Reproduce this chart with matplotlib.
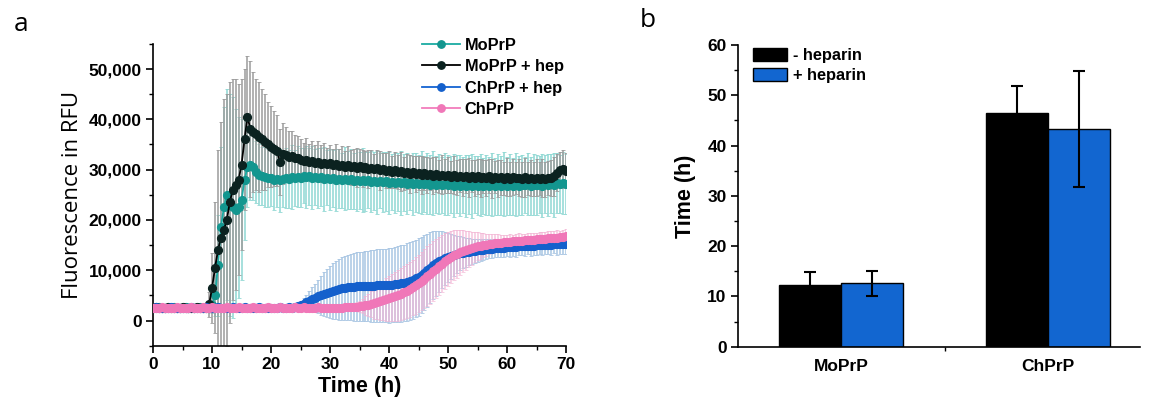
import numpy as np
import matplotlib
matplotlib.use("Agg")
import matplotlib.pyplot as plt
from matplotlib.ticker import MultipleLocator, FuncFormatter

# ---------- panel a: ThT kinetics (values in thousands of RFU) ----------
time_h = np.arange(0, 70.5, 0.5)

mo_hep = [
    2.5, 2.6, 2.5, 2.4, 2.5, 2.6, 2.5, 2.5, 2.4, 2.5,
    2.6, 2.5, 2.4, 2.5, 2.5, 2.6, 2.5, 2.4, 2.5, 3.2,
    6.5, 10.5, 14.0, 16.5, 18.0, 20.0, 23.5, 26.0, 27.0, 28.0,
    31.0, 36.0, 40.5, 38.0, 37.5, 37.0, 36.5, 36.0, 35.5, 35.0,
    34.6, 34.2, 33.8, 31.5, 33.2, 33.0, 32.6, 32.8, 32.3, 32.4,
    32.0, 31.7, 32.0, 31.6, 31.8, 31.4, 31.6, 31.2, 31.4, 31.1,
    31.3, 30.9, 31.1, 30.8, 31.0, 30.6, 30.9, 30.5, 30.8, 30.4,
    30.7, 30.3, 30.6, 30.2, 30.4, 30.1, 30.3, 29.9, 30.1, 29.8,
    30.0, 29.6, 29.9, 29.5, 29.7, 29.3, 29.6, 29.2, 29.5, 29.1,
    29.4, 29.0, 29.3, 28.9, 29.2, 28.8, 29.1, 28.7, 29.0, 28.7,
    28.9, 28.6, 28.9, 28.5, 28.8, 28.5, 28.8, 28.4, 28.7, 28.4,
    28.7, 28.3, 28.6, 28.3, 28.7, 28.2, 28.6, 28.3, 28.5, 28.2,
    28.6, 28.2, 28.5, 28.3, 28.4, 28.1, 28.5, 28.2, 28.4, 28.1,
    28.4, 28.2, 28.3, 28.1, 28.4, 28.3, 28.7, 29.4, 29.9, 30.1,
    29.8]
mo_hep_err = [
    0.5, 0.5, 0.5, 0.5, 0.5, 0.5, 0.5, 0.5, 0.5, 0.5,
    0.5, 0.5, 0.5, 0.5, 0.5, 0.6, 0.6, 0.7, 0.8, 2.5,
    7.0, 13.0, 20.0, 23.0, 26.0, 25.0, 24.0, 22.0, 21.0, 19.0,
    17.0, 14.0, 12.0, 13.5, 12.0, 11.0, 11.0, 10.0, 9.5, 8.5,
    8.0, 7.5, 7.0, 6.5, 6.0, 5.5, 5.0, 4.8, 4.5, 4.2,
    4.0, 3.6, 4.2, 3.5, 3.9, 3.4, 4.0, 3.6, 3.8, 3.3,
    3.6, 3.2, 3.9, 3.4, 3.7, 3.1, 3.8, 3.5, 3.3, 3.9,
    3.4, 3.7, 3.2, 3.8, 3.5, 3.1, 3.6, 3.9, 3.3, 3.5,
    3.7, 3.2, 3.6, 3.4, 3.9, 3.3, 3.5, 3.8, 3.2, 3.6,
    3.4, 3.8, 3.3, 3.6, 3.2, 3.7, 3.5, 3.3, 3.9, 3.4,
    3.6, 3.2, 3.8, 3.5, 3.3, 3.7, 3.4, 3.9, 3.2, 3.6,
    3.5, 3.8, 3.3, 3.6, 3.4, 3.9, 3.2, 3.7, 3.5, 3.3,
    3.8, 3.4, 3.6, 3.2, 3.7, 3.5, 3.9, 3.3, 3.6, 3.4,
    3.7, 3.3, 3.8, 3.5, 3.4, 3.6, 3.9, 3.7, 3.6, 3.8,
    3.5]

mo = [
    2.4, 2.5, 2.6, 2.5, 2.4, 2.5, 2.5, 2.6, 2.5, 2.4,
    2.5, 2.6, 2.5, 2.4, 2.5, 2.5, 2.6, 2.5, 2.4, 2.5,
    3.0, 5.0, 11.0, 18.5, 22.5, 25.0, 23.0, 22.5, 22.0, 22.5,
    24.0, 28.0, 30.5, 31.0, 30.5, 29.5, 29.0, 28.8, 28.5, 28.4,
    28.3, 28.0, 28.2, 27.9, 28.1, 28.4, 28.2, 28.5, 28.3, 28.6,
    28.4, 28.8, 28.5, 28.7, 28.4, 28.6, 28.3, 28.5, 28.2, 28.4,
    28.1, 28.3, 28.0, 28.2, 27.9, 28.2, 27.9, 28.1, 27.8, 28.0,
    27.8, 28.0, 27.7, 27.9, 27.6, 27.8, 27.5, 27.8, 27.5, 27.7,
    27.4, 27.6, 27.3, 27.6, 27.3, 27.5, 27.2, 27.5, 27.2, 27.4,
    27.1, 27.4, 27.1, 27.3, 27.0, 27.3, 27.0, 27.2, 26.9, 27.2,
    26.9, 27.1, 26.8, 27.1, 26.8, 27.0, 26.7, 27.0, 26.8, 27.1,
    26.8, 27.0, 26.7, 27.0, 26.8, 27.1, 26.7, 27.0, 26.8, 27.1,
    26.8, 27.0, 26.7, 27.1, 26.8, 27.0, 26.9, 27.1, 26.8, 27.0,
    26.9, 27.1, 26.8, 27.2, 26.9, 27.2, 27.0, 27.3, 27.1, 27.4,
    27.2]
mo_err = [
    0.6, 0.6, 0.6, 0.6, 0.6, 0.6, 0.6, 0.6, 0.6, 0.6,
    0.6, 0.6, 0.6, 0.6, 0.6, 0.6, 0.6, 0.6, 0.6, 0.8,
    1.5, 4.0, 10.0, 16.0, 20.0, 21.0, 22.0, 22.0, 20.0, 18.0,
    16.0, 12.0, 8.0, 7.0, 6.5, 6.2, 6.0, 5.8, 6.0, 5.8,
    5.6, 6.1, 5.7, 6.3, 5.5, 6.0, 5.8, 6.4, 5.6, 6.1,
    5.9, 5.5, 6.2, 5.7, 6.3, 5.6, 6.0, 5.8, 6.4, 5.5,
    6.1, 5.7, 6.2, 5.9, 5.5, 6.3, 5.8, 6.0, 5.6, 6.2,
    5.7, 6.4, 5.9, 5.6, 6.1, 5.8, 6.3, 5.5, 6.0, 5.9,
    6.2, 5.6, 6.0, 5.8, 6.4, 5.7, 6.1, 5.5, 6.2, 5.9,
    5.8, 6.3, 5.6, 6.1, 5.9, 6.4, 5.7, 6.0, 5.6, 6.2,
    6.0, 5.7, 6.3, 5.8, 6.1, 5.6, 6.2, 5.9, 6.4, 5.7,
    5.9, 6.2, 5.6, 6.0, 5.8, 6.3, 5.7, 6.1, 5.9, 6.4,
    5.8, 6.1, 5.7, 6.3, 5.9, 6.0, 5.6, 6.2, 5.8, 6.1,
    6.0, 5.7, 6.3, 5.8, 6.2, 5.9, 6.4, 6.0, 5.8, 6.2,
    6.0]

ch_hep = [
    2.5, 2.6, 2.5, 2.4, 2.5, 2.5, 2.6, 2.5, 2.4, 2.5,
    2.5, 2.4, 2.5, 2.6, 2.5, 2.4, 2.5, 2.5, 2.6, 2.5,
    2.4, 2.5, 2.6, 2.5, 2.4, 2.5, 2.5, 2.6, 2.5, 2.4,
    2.5, 2.6, 2.5, 2.4, 2.5, 2.5, 2.6, 2.5, 2.4, 2.5,
    2.5, 2.4, 2.5, 2.6, 2.5, 2.5, 2.6, 2.5, 2.6, 2.8,
    3.0, 3.3, 3.6, 3.9, 4.2, 4.5, 4.8, 5.0, 5.3, 5.5,
    5.7, 5.9, 6.1, 6.2, 6.4, 6.5, 6.6, 6.7, 6.7, 6.8,
    6.8, 6.8, 6.9, 6.9, 6.9, 6.9, 7.0, 7.0, 7.0, 7.0,
    7.0, 7.1, 7.2, 7.3, 7.4, 7.5, 7.7, 7.9, 8.1, 8.4,
    8.7, 9.1, 9.5, 10.0, 10.5, 11.0, 11.4, 11.8, 12.1, 12.4,
    12.6, 12.8, 13.0, 13.2, 13.4, 13.5, 13.6, 13.7, 13.8, 13.9,
    14.0, 14.1, 14.1, 14.2, 14.3, 14.3, 14.4, 14.4, 14.5, 14.5,
    14.6, 14.6, 14.7, 14.7, 14.8, 14.8, 14.8, 14.9, 14.9, 14.9,
    15.0, 15.0, 15.0, 15.1, 15.1, 15.1, 15.2, 15.2, 15.2, 15.3,
    15.3]
ch_hep_err = [
    0.6, 0.6, 0.6, 0.6, 0.6, 0.6, 0.6, 0.6, 0.6, 0.6,
    0.6, 0.6, 0.6, 0.6, 0.6, 0.6, 0.6, 0.6, 0.6, 0.6,
    0.6, 0.6, 0.6, 0.6, 0.6, 0.6, 0.6, 0.6, 0.6, 0.6,
    0.6, 0.6, 0.6, 0.6, 0.6, 0.6, 0.6, 0.6, 0.6, 0.6,
    0.6, 0.6, 0.6, 0.6, 0.6, 0.6, 0.6, 0.7, 0.7, 0.8,
    0.9, 1.2, 1.5, 1.9, 2.4, 2.8, 3.3, 3.8, 4.3, 4.8,
    5.1, 5.5, 5.8, 6.0, 6.2, 6.3, 6.5, 6.6, 6.7, 6.8,
    6.9, 6.9, 7.0, 7.0, 7.1, 7.1, 7.2, 7.2, 7.3, 7.3,
    7.4, 7.4, 7.5, 7.5, 7.6, 7.6, 7.7, 7.7, 7.7, 7.7,
    7.7, 7.6, 7.5, 7.3, 7.1, 6.8, 6.5, 6.1, 5.7, 5.3,
    4.9, 4.5, 4.1, 3.7, 3.4, 3.1, 2.9, 2.7, 2.5, 2.4,
    2.3, 2.2, 2.1, 2.0, 1.9, 1.9, 1.8, 1.8, 1.8, 1.8,
    1.7, 1.9, 1.8, 2.0, 1.7, 1.8, 1.9, 1.7, 2.0, 1.8,
    1.9, 1.7, 2.0, 1.8, 1.9, 2.0, 1.8, 2.1, 1.9, 2.1,
    2.0]

ch = [
    2.5, 2.4, 2.5, 2.6, 2.5, 2.5, 2.4, 2.5, 2.6, 2.5,
    2.4, 2.5, 2.5, 2.6, 2.5, 2.4, 2.5, 2.6, 2.5, 2.5,
    2.6, 2.5, 2.4, 2.5, 2.5, 2.6, 2.5, 2.4, 2.5, 2.6,
    2.5, 2.5, 2.4, 2.5, 2.6, 2.5, 2.5, 2.4, 2.5, 2.6,
    2.5, 2.4, 2.5, 2.6, 2.5, 2.5, 2.4, 2.5, 2.6, 2.5,
    2.5, 2.6, 2.5, 2.4, 2.5, 2.5, 2.6, 2.5, 2.4, 2.5,
    2.5, 2.5, 2.5, 2.5, 2.5, 2.6, 2.6, 2.6, 2.7, 2.7,
    2.8, 2.9, 3.0, 3.1, 3.3, 3.4, 3.6, 3.8, 4.0, 4.2,
    4.4, 4.6, 4.8, 5.0, 5.3, 5.6, 5.9, 6.2, 6.6, 7.0,
    7.4, 7.8, 8.3, 8.8, 9.3, 9.8, 10.3, 10.8, 11.3, 11.8,
    12.2, 12.6, 13.0, 13.3, 13.6, 13.8, 14.0, 14.2, 14.4, 14.6,
    14.8, 14.9, 15.0, 15.1, 15.2, 15.3, 15.4, 15.5, 15.5, 15.6,
    15.7, 15.7, 15.8, 15.8, 15.9, 15.9, 16.0, 16.0, 16.1, 16.1,
    16.2, 16.2, 16.3, 16.3, 16.4, 16.4, 16.5, 16.5, 16.6, 16.7,
    16.8]
ch_err = [
    0.5, 0.5, 0.5, 0.5, 0.5, 0.5, 0.5, 0.5, 0.5, 0.5,
    0.5, 0.5, 0.5, 0.5, 0.5, 0.5, 0.5, 0.5, 0.5, 0.5,
    0.5, 0.5, 0.5, 0.5, 0.5, 0.5, 0.5, 0.5, 0.5, 0.5,
    0.5, 0.5, 0.5, 0.5, 0.5, 0.5, 0.5, 0.5, 0.5, 0.5,
    0.5, 0.5, 0.5, 0.5, 0.5, 0.5, 0.5, 0.5, 0.5, 0.5,
    0.5, 0.5, 0.5, 0.5, 0.5, 0.5, 0.5, 0.5, 0.5, 0.5,
    0.5, 0.5, 0.5, 0.5, 0.5, 0.6, 0.6, 0.7, 0.8, 0.9,
    1.1, 1.4, 1.8, 2.2, 2.6, 3.0, 3.3, 3.6, 3.9, 4.2,
    4.4, 4.6, 4.8, 5.0, 5.1, 5.2, 5.3, 5.4, 5.5, 5.6,
    5.7, 5.8, 5.9, 6.0, 6.0, 6.0, 5.9, 5.8, 5.7, 5.6,
    5.4, 5.2, 5.0, 4.8, 4.5, 4.2, 3.9, 3.6, 3.3, 3.0,
    2.8, 2.6, 2.4, 2.2, 2.0, 1.9, 1.8, 1.7, 1.6, 1.5,
    1.4, 1.5, 1.3, 1.4, 1.5, 1.4, 1.3, 1.5, 1.4, 1.4,
    1.3, 1.5, 1.4, 1.3, 1.5, 1.4, 1.4, 1.5, 1.3, 1.4,
    1.4]

# ---------- panel b: lag times ----------
proteins = ["MoPrP", "ChPrP"]
lag_minus_hep = [12.3, 46.4]
lag_minus_hep_err = [2.5, 5.5]
lag_plus_hep = [12.6, 43.3]
lag_plus_hep_err = [2.5, 11.5]

BOLD = "Liberation Sans"
plt.rcParams["font.family"] = [BOLD, "DejaVu Sans"]
plt.rcParams["axes.linewidth"] = 1.2

fig = plt.figure(figsize=(11.56, 4.11), dpi=100)
ax = fig.add_axes([0.1324, 0.1589, 0.3573, 0.7343])
ax2 = fig.add_axes([0.6382, 0.1564, 0.348, 0.734])

series = [
    ("MoPrP", mo, mo_err, "#1aaba3", "#13968f", "#8fd8d3"),
    ("MoPrP + hep", mo_hep, mo_hep_err, "#000000", "#0b2220", "#9c9c9c"),
    ("ChPrP + hep", ch_hep, ch_hep_err, "#1463d2", "#1460cc", "#a9c6e3"),
    ("ChPrP", ch, ch_err, "#f27dbc", "#f077b8", "#f3b3d3"),
]
t = time_h
# error bars underneath: black first, then the rest
err_order = [1, 0, 2, 3]
for k in err_order:
    name, y, e, c, ec, errc = series[k]
    ax.errorbar(t, np.array(y) * 1000, yerr=np.array(e) * 1000, fmt="none",
                ecolor=errc, elinewidth=1.3, capsize=1.3, capthick=0.7,
                alpha=0.85 if k < 3 else 0.65, zorder=1 + k * 0.1)
handles = []
for k, (name, y, e, c, ec, errc) in enumerate(series):
    h, = ax.plot(t, np.array(y) * 1000, "-o", color=c, mfc=ec, mec=ec,
                 ms=5.6, lw=1.3, label=name, zorder=3 + k * 0.1)
    handles.append(h)

ax.set_xlim(0, 70)
ax.set_ylim(-5000, 55000)
ax.xaxis.set_major_locator(MultipleLocator(10))
ax.xaxis.set_minor_locator(MultipleLocator(5))
ax.yaxis.set_major_locator(MultipleLocator(10000))
ax.yaxis.set_minor_locator(MultipleLocator(5000))
ax.yaxis.set_major_formatter(FuncFormatter(lambda v, p: f"{int(v):,}"))
for a in (ax, ax2):
    a.spines["top"].set_visible(False)
    a.spines["right"].set_visible(False)
    a.tick_params(which="major", direction="out", length=5, width=1.2,
                  labelsize=12.5, pad=3)
    a.tick_params(which="minor", direction="out", length=3, width=1.0)
    for lab in a.get_xticklabels() + a.get_yticklabels():
        lab.set_fontweight("bold")

ax.set_xlabel("Time (h)", fontsize=15.5, fontweight="bold", labelpad=3)
ax.set_ylabel("Fluorescence in RFU", fontsize=16, family="Open Sans",
              labelpad=4)
ax.legend(handles=handles, loc="upper right", bbox_to_anchor=(1.03, 1.07),
          frameon=False, prop={"weight": "bold", "size": 11.8},
          handlelength=2.3, handletextpad=0.3, labelspacing=0.4,
          markerscale=0.95)

# bar chart
x = np.arange(len(proteins))
w = 0.3
ax2.bar(x - w / 2, lag_minus_hep, w, color="#000000", edgecolor="black",
        lw=1, label="- heparin", zorder=2)
ax2.bar(x + w / 2, lag_plus_hep, w, color="#1266d0", edgecolor="black",
        lw=1, label="+ heparin", zorder=2)
ax2.errorbar(x - w / 2, lag_minus_hep, yerr=lag_minus_hep_err, fmt="none",
             ecolor="black", elinewidth=1.5, capsize=4, capthick=1.5, zorder=3)
ax2.errorbar(x + w / 2, lag_plus_hep, yerr=lag_plus_hep_err, fmt="none",
             ecolor="black", elinewidth=1.5, capsize=4, capthick=1.5, zorder=3)
ax2.set_xlim(-0.5, 1.445)
ax2.set_ylim(0, 60)
ax2.set_xticks(x)
ax2.set_xticklabels(proteins)
ax2.set_xticks([0.5], minor=True)
ax2.yaxis.set_major_locator(MultipleLocator(10))
ax2.yaxis.set_minor_locator(MultipleLocator(5))
ax2.tick_params(axis="x", which="major", length=0, pad=9)
for lab in ax2.get_xticklabels() + ax2.get_yticklabels():
    lab.set_fontweight("bold")
ax2.set_ylabel("Time (h)", fontsize=15.5, fontweight="bold", labelpad=8)
ax2.legend(loc="upper left", bbox_to_anchor=(0.0, 1.04), frameon=False,
           prop={"weight": "bold", "size": 11.8}, handlelength=2.1,
           handleheight=0.85, handletextpad=0.4, labelspacing=0.3)

fig.text(0.012, 0.925, "a", fontsize=19, family="Open Sans", va="baseline")
fig.text(0.553, 0.935, "b", fontsize=19, family="Open Sans", va="baseline")

fig.savefig("out.png", dpi=100)
